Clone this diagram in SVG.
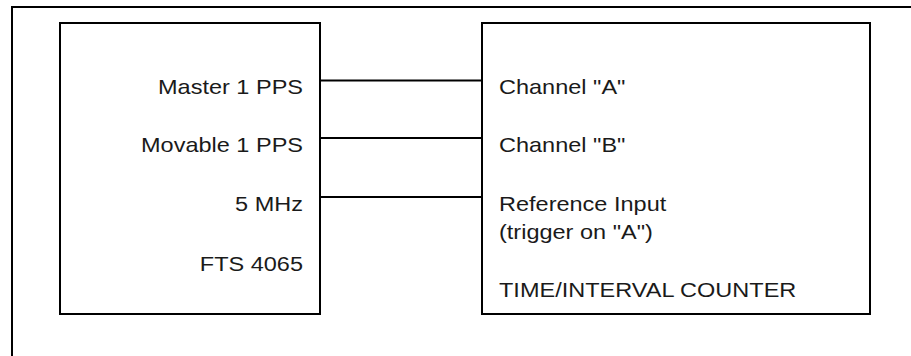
<svg xmlns="http://www.w3.org/2000/svg" width="911" height="356" viewBox="0 0 911 356">
<style>
.ln{fill:none;stroke:#000;stroke-width:2}
.t{font-family:"Liberation Sans",Arial,sans-serif;font-size:21px;fill:#1a1a1a}
.r{text-anchor:end}
</style>
<rect width="911" height="356" fill="#fff"/>
<path id="frame" class="ln" d="M12,356 V7 H911"/>
<g id="fts4065">
<rect class="ln" x="60" y="23" width="260" height="291"/>
<text class="t r" transform="translate(303,94) scale(1.12,1)">Master 1 PPS</text>
<text class="t r" transform="translate(303,152) scale(1.12,1)">Movable 1 PPS</text>
<text class="t r" transform="translate(303,211) scale(1.12,1)">5 MHz</text>
<text class="t r" transform="translate(303,271) scale(1.12,1)">FTS 4065</text>
</g>
<g id="counter">
<rect class="ln" x="482" y="23" width="388" height="291"/>
<text class="t" transform="translate(499,94) scale(1.12,1)">Channel "A"</text>
<text class="t" transform="translate(499,152) scale(1.12,1)">Channel "B"</text>
<text class="t" transform="translate(499,211) scale(1.12,1)">Reference Input</text>
<text class="t" transform="translate(499,239) scale(1.12,1)">(trigger on "A")</text>
<text class="t" transform="translate(499,297) scale(1.12,1)">TIME/INTERVAL COUNTER</text>
</g>
<g id="connectors">
<line class="ln" x1="320" y1="80.5" x2="482" y2="80.5"/>
<line class="ln" x1="320" y1="138" x2="482" y2="138"/>
<line class="ln" x1="320" y1="197" x2="482" y2="197"/>
</g>
</svg>
